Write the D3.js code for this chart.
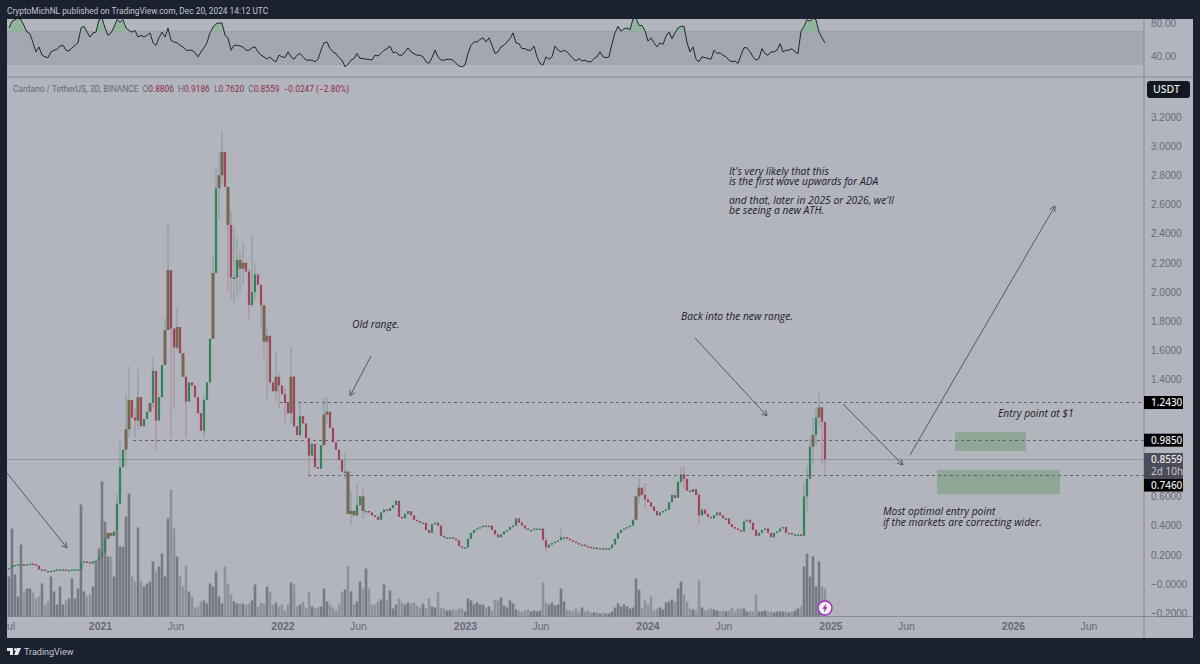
<!DOCTYPE html>
<html>
<head>
<meta charset="utf-8">
<script src="https://cdn.jsdelivr.net/npm/d3@7"></script>
<style>
  html, body { margin: 0; padding: 0; background: #1c2130; }
  svg { display: block; font-family: "Noto Sans", sans-serif; }
  .note { font-family: "Open Sans", sans-serif; font-style: italic; font-size: 10.3px; fill: #1d2029; }
  .tick-label { font-size: 10px; fill: #666a76; }
  .hline { shape-rendering: crispEdges; }
</style>
</head>
<body>
<svg id="chart"></svg>
<script>
const width = 1200, height = 664;
const panelLeft = 7, panelRight = 1193, panelTop = 19, panelBottom = 638;
const axisX = 1144, rsiBottom = 77, timeY = 616.5;

const firstCandle = "2020-07-03", candleDays = 6;

// closes, one per 6 days
const closes = [
  .11,.125,.13,.135,.135,.13,.135,.14,.135,.125,
  .10,.10,.09,.085,.09,.095,.10,.10,.10,.095,
  .095,.10,.10,.10,.15,.155,.15,.14,.155,.16,
  .185,.22,.31,.35,.33,.36,.55,.80,.92,1.06,
  1.26,1.14,1.12,1.28,1.08,1.13,1.18,1.24,1.46,1.12,
  1.28,1.50,1.74,2.15,1.75,1.62,1.76,1.58,1.42,1.25,
  1.38,1.36,1.28,1.17,1.05,1.26,1.38,1.68,2.13,2.71,
  2.80,2.96,2.72,2.46,2.10,2.10,2.22,2.16,2.20,2.14,
  1.91,2.0,2.12,2.05,1.91,1.66,1.70,1.38,1.32,1.42,
  1.36,1.30,1.24,1.17,1.42,1.08,1.02,1.15,1.10,1.00,
  .88,.96,.80,.79,.95,1.16,1.18,1.07,.97,.92,
  .85,.77,.77,.48,.50,.47,.54,.60,.50,.50,
  .49,.47,.46,.44,.49,.51,.50,.52,.54,.57,
  .46,.45,.48,.50,.47,.44,.43,.42,.42,.37,
  .35,.41,.42,.40,.33,.32,.32,.32,.31,.30,
  .26,.25,.25,.31,.35,.37,.38,.39,.40,.39,
  .40,.37,.34,.32,.34,.36,.37,.39,.40,.45,
  .42,.40,.38,.37,.37,.38,.38,.38,.30,.25,
  .27,.28,.29,.30,.32,.32,.31,.30,.29,.28,
  .27,.27,.26,.255,.25,.25,.245,.245,.24,.245,
  .245,.27,.31,.35,.37,.38,.39,.40,.44,.60,
  .66,.61,.58,.56,.53,.50,.47,.49,.50,.51,
  .56,.61,.59,.70,.75,.72,.64,.63,.65,.61,
  .47,.51,.48,.46,.45,.47,.49,.47,.45,.45,
  .41,.39,.38,.37,.36,.43,.44,.42,.37,.33,
  .35,.37,.38,.35,.32,.35,.36,.38,.39,.35,
  .35,.34,.34,.34,.33,.60,.72,.94,1.02,1.14,
  1.21,1.11,.8559
];

// the long wicks only, the rest are too short to see
const wickIndex = [36,37,39,40,42,43,48,49,52,53,54,55,56,59,65,68,69,70,71,73,74,75,76,77,78,80,81,82,84,85,86,89,90,92,94,97,100,105,106,112,114,116,118,179,184,210,212,224,225,230,265,266,267,268,269,270,271,272];
const wickHigh = [.62,.98,1.30,1.49,1.2,1.47,1.55,1.30,1.82,2.46,2.1,1.72,1.89,1.35,1.3,2.24,2.85,2.96,3.10,2.60,2.56,2.45,2.37,2.28,2.34,2.16,2.38,2.2,2.0,1.9,1.76,1.59,1.45,1.34,1.62,1.25,.97,1.28,1.28,.90,.64,.69,.66,.32,.38,.72,.69,.80,.81,.62,.70,.81,1.0,1.14,1.2,1.32,1.21,.92];
const wickLow = [.45,.70,.81,1.0,1.0,1.06,1.2,.92,1.5,1.9,1.0,1.2,1.6,1.0,1.0,1.86,2.47,2.5,2.75,2.0,1.95,1.91,1.96,2.0,2.05,1.81,1.9,1.95,1.75,1.55,1.25,1.25,1.2,1.1,1.1,1.0,.75,1.0,1.1,.72,.40,.48,.45,.22,.3,.55,.52,.68,.65,.41,.42,.50,.75,.82,.95,1.08,.82,.76];

// candles that look brown in the picture, red and green on top of each other
const mixedIndex = [33,34,39,40,43,47,52,53,56,58,68,70,71,73,75,77,78,85,86,89,94,105,106,113,114,115,118,209,210,268,270];

const volumes = [
  40,88,42,20,72,25,28,28,24,18,
  20,33,12,15,40,25,12,30,12,16,
  18,38,18,28,112,25,20,22,30,55,
  68,135,95,60,60,40,85,70,70,100,
  123,40,35,89,35,30,33,35,55,45,
  50,63,40,98,127,88,60,40,30,51,
  25,20,9,10,15,16,13,33,30,45,
  20,13,50,33,22,15,13,13,13,12,
  13,16,32,10,14,13,30,25,12,14,
  10,12,6,12,34,32,10,12,15,8,
  25,10,8,9,10,28,15,12,9,6,
  12,24,27,50,25,12,15,35,28,48,
  28,12,12,15,17,32,16,26,8,12,
  18,14,12,14,13,14,11,9,13,8,
  18,10,9,24,9,8,6,6,7,6,
  8,8,5,18,16,12,14,12,12,9,
  10,6,17,16,19,11,9,16,13,7,
  6,5,6,7,5,6,5,6,34,14,
  12,14,11,12,28,15,7,6,5,8,
  4,9,5,6,4,4,4,3,4,3,
  3,5,9,13,10,12,10,8,9,38,
  27,8,16,12,20,6,8,9,7,14,
  15,17,15,28,35,22,15,8,7,6,
  36,9,6,7,8,7,6,5,6,5,
  6,9,5,8,8,8,5,5,5,22,
  5,5,6,5,5,4,5,5,5,5,
  4,5,6,8,10,50,63,40,60,30,
  55,30,28
];

const rsi = [
  74,82,84,86,84,77,69,67,56,45,
  51,41,39,38,45,47,48,52,53,47,
  46,50,53,56,74,76,69,63,68,69,
  84,86,74,65,68,75,84,81,84,74,
  71,69,71,63,65,63,65,68,56,53,
  62,69,63,74,59,57,56,53,51,47,
  47,47,44,39,45,50,56,68,75,79,
  80,80,65,62,47,53,53,52,51,47,
  47,50,51,45,41,39,36,39,35,33,
  41,39,38,45,39,36,41,43,39,35,
  35,35,33,36,47,56,57,49,45,43,
  38,35,27,30,35,37,43,37,37,36,
  36,35,41,40,43,47,49,52,44,45,
  41,41,45,50,45,43,41,41,39,33,
  31,38,47,39,35,35,36,36,35,31,
  28,27,29,43,53,57,57,60,62,57,
  62,53,43,45,51,53,57,61,68,56,
  55,49,49,47,47,52,39,31,29,39,
  36,39,52,47,45,47,45,41,37,34,
  37,34,35,33,33,37,39,45,39,38,
  39,55,68,76,70,73,74,72,85,86,
  77,77,71,58,62,56,51,56,54,64,
  69,61,68,74,76,76,56,45,51,36,
  33,39,38,37,36,47,43,44,41,39,
  35,33,34,31,41,50,50,45,39,35,
  37,49,43,41,45,45,47,55,45,47,
  47,49,45,43,70,76,84,82,86,84,
  69,62,56
];

// 1.2, 1.0 and 0.8 sit behind the price badges
const priceTicks = [3.2,3.0,2.8,2.6,2.4,2.2,2.0,1.8,1.6,1.4,0.6,0.4,0.2,0,-0.2];
const rsiTicks = [80,40];
const timeTicks = ["2020-07-01","2021-01-01","2021-06-01","2022-01-01","2022-06-01","2023-01-01","2023-06-01","2024-01-01","2024-06-01","2025-01-01","2025-06-01","2026-01-01","2026-06-01"];

const levels = [1.243, 0.985, 0.746];
const levelStarts = ["2021-12-27","2021-03-08","2022-02-21"];
const lastPrice = 0.8559;

const zoneStarts = ["2025-09-07","2025-08-02"];
const zoneEnds = ["2026-01-27","2026-04-05"];
const zoneTops = [1.041, 0.781];
const zoneBottoms = [0.911, 0.616];

const arrowFrom = [["2020-06-29",.76],["2022-06-27",1.562],["2024-04-05",1.685],["2025-01-26",1.233],["2025-06-09",.884]];
const arrowTo = [["2020-10-27",.247],["2022-05-16",1.288],["2024-08-27",1.151],["2025-05-26",.815],["2026-03-26",2.589]];

const notes = [
  ["Old range.", 352, 328],
  ["Back into the new range.", 681, 320],
  ["It's very likely that this", 729, 175],
  ["is the first wave upwards for ADA", 729, 185],
  ["and that, later in 2025 or 2026, we'll", 729, 204],
  ["be seeing a new ATH.", 729, 214],
  ["Entry point at $1", 998, 417],
  ["Most optimal entry point", 883, 515],
  ["if the markets are correcting wider.", 883, 526]
];

const parse = d3.utcParse("%Y-%m-%d");

const x = d3.scaleUtc()
    .domain([parse("2021-01-01"), parse("2026-01-01")])
    .range([100, 1013]);
const y = d3.scaleLinear().domain([0, 3.2]).range([584, 116.8]);
const yRsi = d3.scaleLinear().domain([40, 80]).range([56, 23]);
const yVol = d3.scaleLinear().domain([0, 135]).range([timeY, timeY - 135]);

const candleDate = i => d3.utcDay.offset(parse(firstCandle), i * candleDays);
const candleX = i => x(candleDate(i));

const wicks = new Map(wickIndex.map((idx, k) => [idx, [wickHigh[k], wickLow[k]]]));
const mixed = new Set(mixedIndex);

const candles = closes.map((close, i) => {
  const open = i ? closes[i - 1] : close;
  const wick = wicks.get(i) || [Math.max(open, close), Math.min(open, close)];
  return {i, open, close, high: wick[0], low: wick[1], up: close >= open, mixed: mixed.has(i)};
});

const svg = d3.select("#chart").attr("width", width).attr("height", height);

svg.append("rect").attr("width", width).attr("height", height).attr("fill", "#1c2130");
svg.append("rect")
    .attr("x", panelLeft).attr("y", panelTop)
    .attr("width", panelRight - panelLeft).attr("height", panelBottom - panelTop)
    .attr("fill", "#b2b5be");

const defs = svg.append("defs");
defs.append("clipPath").attr("id", "plot").append("rect")
    .attr("x", panelLeft).attr("y", panelTop)
    .attr("width", axisX - panelLeft).attr("height", panelBottom - panelTop);
defs.append("clipPath").attr("id", "rsiHigh").append("rect")
    .attr("x", panelLeft).attr("y", panelTop)
    .attr("width", axisX - panelLeft).attr("height", yRsi(70) - panelTop);
defs.append("clipPath").attr("id", "rsiPane").append("rect")
    .attr("x", panelLeft).attr("y", panelTop)
    .attr("width", axisX - panelLeft).attr("height", rsiBottom - panelTop);

// RSI pane
const rsiPane = svg.append("g");

rsiPane.append("rect")
    .attr("x", panelLeft).attr("y", yRsi(70))
    .attr("width", axisX - panelLeft).attr("height", yRsi(30) - yRsi(70))
    .attr("fill", "#a5a7b0");

rsiPane.selectAll("line.band")
    .data([70, 30])
    .join("line")
    .attr("class", "band")
    .attr("x1", panelLeft).attr("x2", axisX)
    .attr("y1", d => yRsi(d)).attr("y2", d => yRsi(d))
    .attr("stroke", "#92959e")
    .attr("stroke-dasharray", "2,2");

const rsiX = (d, i) => candleX(i);

rsiPane.append("path")
    .datum(rsi)
    .attr("clip-path", "url(#rsiHigh)")
    .attr("fill", "#8fb59c")
    .attr("d", d3.area().x(rsiX).y0(yRsi(70)).y1(d => yRsi(d)));

rsiPane.append("path")
    .datum(rsi)
    .attr("clip-path", "url(#rsiPane)")
    .attr("fill", "none")
    .attr("stroke", "#23262f")
    .attr("stroke-width", 1)
    .attr("d", d3.line().x(rsiX).y(d => yRsi(d)));

// dividers
svg.append("line").attr("x1", panelLeft).attr("x2", panelRight)
    .attr("y1", rsiBottom).attr("y2", rsiBottom)
    .attr("stroke", "#888b94").attr("stroke-width", 1.2);
svg.append("line").attr("x1", panelLeft).attr("x2", panelRight)
    .attr("y1", timeY).attr("y2", timeY)
    .attr("stroke", "#888b94");
svg.append("line").attr("x1", axisX).attr("x2", axisX)
    .attr("y1", panelTop).attr("y2", panelBottom)
    .attr("stroke", "#888b94");

// axes, labels only
const priceFormat = d => d < 0 ? "\u2212" + d3.format(".4f")(-d) : (d === 0 ? "\u22120.0000" : d3.format(".4f")(d));

const priceAxis = svg.append("g")
    .attr("transform", `translate(${axisX},0)`)
    .call(d3.axisRight(y).tickValues(priceTicks).tickFormat(priceFormat).tickSize(0).tickPadding(7));
priceAxis.select(".domain").remove();
priceAxis.selectAll("text").attr("class", "tick-label").attr("fill", null);

const rsiAxis = svg.append("g")
    .attr("transform", `translate(${axisX},0)`)
    .call(d3.axisRight(yRsi).tickValues(rsiTicks).tickFormat(d3.format(".2f")).tickSize(0).tickPadding(7));
rsiAxis.select(".domain").remove();
rsiAxis.selectAll("text").attr("class", "tick-label").attr("fill", null);

const timeAxis = svg.append("g")
    .attr("clip-path", "url(#plot)")
    .append("g")
    .attr("transform", `translate(0,${timeY + 6})`)
    .call(d3.axisBottom(x)
        .tickValues(timeTicks.map(parse))
        .tickFormat(d => d.getUTCMonth() === 0 ? d.getUTCFullYear() : d3.utcFormat("%b")(d))
        .tickSize(0).tickPadding(0));
timeAxis.select(".domain").remove();
timeAxis.selectAll("text")
    .attr("class", "tick-label")
    .attr("fill", null)
    .style("font-weight", d => d.getUTCMonth() === 0 ? 600 : 400)
    .style("font-size", "10.5px");

const plot = svg.append("g").attr("clip-path", "url(#plot)");

// volume
plot.append("g")
    .selectAll("rect")
    .data(volumes)
    .join("rect")
    .attr("x", (d, i) => candleX(i) - 1.3)
    .attr("width", 2.6)
    .attr("y", d => yVol(d))
    .attr("height", d => yVol(0) - yVol(d))
    .attr("fill", (d, i) => candles[i].up ? "#777a84" : "#8f929b");

// zones
plot.append("g")
    .selectAll("rect")
    .data(zoneStarts)
    .join("rect")
    .attr("x", d => x(parse(d)))
    .attr("width", (d, i) => x(parse(zoneEnds[i])) - x(parse(d)))
    .attr("y", (d, i) => y(zoneTops[i]))
    .attr("height", (d, i) => y(zoneBottoms[i]) - y(zoneTops[i]))
    .attr("fill", "#8ea796");

// levels
plot.append("g")
    .selectAll("line")
    .data(levels)
    .join("line")
    .attr("class", "hline")
    .attr("x1", (d, i) => x(parse(levelStarts[i])))
    .attr("x2", axisX)
    .attr("y1", d => y(d)).attr("y2", d => y(d))
    .attr("stroke", "#62656f")
    .attr("stroke-dasharray", "3,3");

plot.append("line")
    .attr("class", "hline")
    .attr("x1", panelLeft).attr("x2", axisX)
    .attr("y1", y(lastPrice)).attr("y2", y(lastPrice))
    .attr("stroke", "#92959e");

// candles
const upColor = "#37805a", downColor = "#a1455a", mixedColor = "#76664f";
const candleColor = d => d.up ? upColor : downColor;

const candle = plot.append("g")
    .selectAll("g")
    .data(candles)
    .join("g");

candle.append("line")
    .attr("x1", d => candleX(d.i)).attr("x2", d => candleX(d.i))
    .attr("y1", d => y(d.high)).attr("y2", d => y(d.low))
    .attr("stroke", candleColor)
    .attr("stroke-opacity", 0.4);

candle.append("rect")
    .attr("x", d => candleX(d.i) - (d.mixed ? 1.5 : 1.1))
    .attr("width", d => d.mixed ? 3 : 2.2)
    .attr("y", d => Math.min(y(d.open), y(d.close)))
    .attr("height", d => Math.max(1.5, Math.abs(y(d.open) - y(d.close))))
    .attr("fill", d => d.mixed ? mixedColor : candleColor(d));

// arrows
const arrowG = svg.append("g")
    .attr("fill", "none")
    .attr("stroke", "#555965")
    .attr("stroke-width", 1);

arrowFrom.forEach((from, k) => {
  const to = arrowTo[k];
  const x1 = x(parse(from[0])), y1 = y(from[1]);
  const x2 = x(parse(to[0])), y2 = y(to[1]);
  const angle = Math.atan2(y2 - y1, x2 - x1);
  const head = 6;
  const path = d3.path();
  path.moveTo(x1, y1);
  path.lineTo(x2, y2);
  [0.5, -0.5].forEach(a => {
    path.moveTo(x2, y2);
    path.lineTo(x2 - head * Math.cos(angle + a), y2 - head * Math.sin(angle + a));
  });
  arrowG.append("path").attr("d", path.toString());
});

// notes
svg.append("g")
    .selectAll("text")
    .data(notes)
    .join("text")
    .attr("class", "note")
    .attr("x", d => d[1])
    .attr("y", d => d[2])
    .text(d => d[0]);

// price badges, the 0.746 one is pushed down clear of the last price block
const badgeLabels = ["1.2430", "0.9850", "0.7460"];
const badgeValues = [1.243, 0.985, 0.746];
const badgeShift = [0, 0, 10];

const badge = svg.append("g").selectAll("g").data(badgeValues).join("g");
badge.append("rect")
    .attr("x", axisX).attr("width", 39)
    .attr("y", (d, i) => y(d) + badgeShift[i] - 6.5).attr("height", 13)
    .attr("fill", "#000000");
badge.append("text")
    .attr("x", axisX + 7).attr("y", (d, i) => y(d) + badgeShift[i] + 3.5)
    .attr("font-size", 10).attr("font-weight", 500).attr("fill", "#e8e9ed")
    .text((d, i) => badgeLabels[i]);

svg.append("rect")
    .attr("x", axisX).attr("width", 39)
    .attr("y", y(lastPrice) - 6).attr("height", 26)
    .attr("fill", "#4a4c58");
svg.append("text")
    .attr("x", axisX + 7).attr("y", y(lastPrice) + 3.5)
    .attr("font-size", 10).attr("font-weight", 500).attr("fill", "#e8e9ed")
    .text("0.8559");
svg.append("text")
    .attr("x", axisX + 7).attr("y", y(lastPrice) + 15.5)
    .attr("font-size", 10).attr("fill", "#c6c8cf")
    .text("2d 10h");

// USDT
svg.append("rect")
    .attr("x", 1147).attr("y", 81).attr("width", 43).attr("height", 17).attr("rx", 3)
    .attr("fill", "#131722");
svg.append("text")
    .attr("x", 1153).attr("y", 93)
    .attr("font-size", 10.5).attr("font-weight", 500).attr("fill", "#e8e9ed")
    .text("USDT");

// header and legend
svg.append("text")
    .attr("x", 7).attr("y", 13.5)
    .attr("font-family", "Roboto")
    .attr("font-size", 8.35).attr("fill", "#c4c7cf")
    .text("CryptoMichNL published on TradingView.com, Dec 20, 2024 14:12 UTC");

const legendRed = "#8e2f45", legendGrey = "#666a76";
const legend = svg.append("text").attr("x", 13).attr("y", 92)
    .attr("font-family", "Roboto").attr("font-size", 8.4);
legend.append("tspan").attr("fill", legendGrey).text("Cardano / TetherUS, 3D, BINANCE ");
[["O", "0.8806"], ["H", "0.9186"], ["L", "0.7620"], ["C", "0.8559"]].forEach(([k, v]) => {
  legend.append("tspan").attr("dx", 2).attr("fill", legendGrey).text(k);
  legend.append("tspan").attr("fill", legendRed).text(v + " ");
});
legend.append("tspan").attr("dx", 2).attr("fill", legendRed).text("\u22120.0247 (\u22122.80%)");

// footer
svg.append("path")
    .attr("fill", "#e6e7ea")
    .attr("d", "M7 648h6v7h-3v-4H7zM17 648h4l-3 7h-4z");
svg.append("circle").attr("cx", 15.5).attr("cy", 649.5).attr("r", 1.5).attr("fill", "#e6e7ea");
svg.append("text")
    .attr("x", 24).attr("y", 655)
    .attr("font-family", "Roboto")
    .attr("font-size", 9).attr("fill", "#c4c7cf")
    .text("TradingView");

// flash icon
const flash = svg.append("g").attr("transform", `translate(${candleX(candles.length - 1)},608)`);
flash.append("circle").attr("r", 7).attr("fill", "#f3f0f5").attr("stroke", "#9c2fb5").attr("stroke-width", 1.4);
flash.append("path").attr("fill", "#9c2fb5").attr("d", "M1.2-4.5L-2.6 0.8H-0.4L-1.2 4.5L2.6-0.8H0.4Z");
</script>
</body>
</html>
